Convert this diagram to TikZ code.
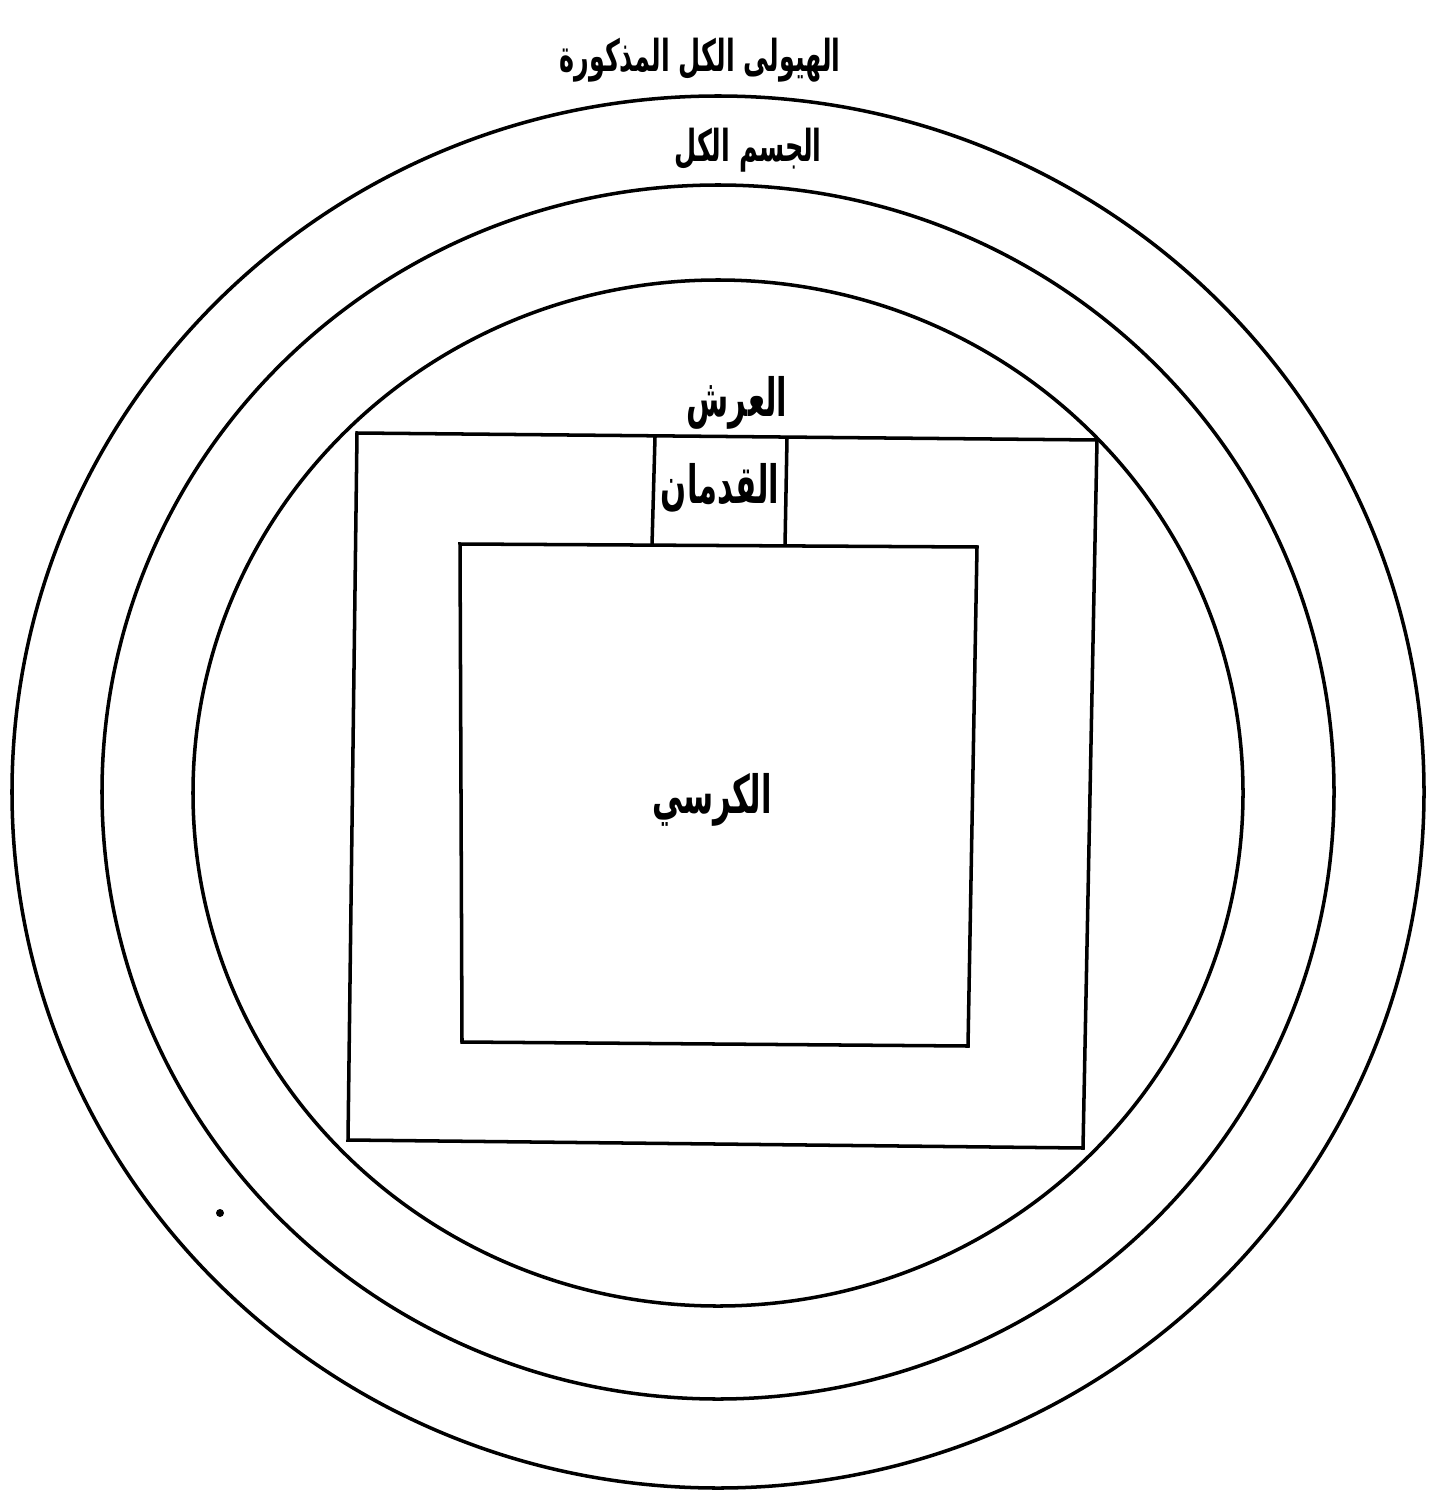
\documentclass[tikz,border=0pt]{standalone}
\usepackage{fontspec}
\newfontfamily\arabicfont[Script=Arabic,FakeStretch=0.58]{DejaVu Sans}
\TeXXeTstate=1
\usetikzlibrary{calc}

\begin{document}
\begin{tikzpicture}[x=0.01cm,y=-0.01cm,
  ring/.style={line width=1pt},
  boxline/.style={line width=1pt},
  arab/.style={font=\arabicfont\fontsize{15}{17}\selectfont\bfseries,inner sep=1pt},
  arabsmall/.style={arab,font=\arabicfont\fontsize{12.5}{15}\selectfont\bfseries}]
  \useasboundingbox (0,0) rectangle (1433,1494);
  % the three spheres
  \draw[ring] (718,792) ellipse [x radius=706, y radius=696];
  \draw[ring] (718,792) ellipse [x radius=616, y radius=607];
  \draw[ring] (718,793) ellipse [x radius=525, y radius=513];
  % outer square (the throne)
  \coordinate (arsh-nw) at (357,433);
  \coordinate (arsh-ne) at (1097,440);
  \coordinate (arsh-se) at (1083,1148);
  \coordinate (arsh-sw) at (348,1140);
  \draw[boxline] (arsh-nw) -- (arsh-ne) -- (arsh-se) -- (arsh-sw) -- cycle;
  % inner square (the footstool)
  \coordinate (kursi-nw) at (460,544);
  \coordinate (kursi-ne) at (977,547);
  \coordinate (kursi-se) at (968,1046);
  \coordinate (kursi-sw) at (462,1042);
  \draw[boxline] (kursi-nw) -- (kursi-ne) -- (kursi-se) -- (kursi-sw) -- cycle;
  % the two feet
  \coordinate (qad-nw) at (655,437);
  \coordinate (qad-ne) at (787,438);
  \coordinate (qad-sw) at (652,545);
  \coordinate (qad-se) at (785,546);
  \draw[boxline] (qad-nw) -- (qad-sw);
  \draw[boxline] (qad-ne) -- (qad-se);
  % names
  \node[arabsmall] (hayula) at (700,60) {\beginR الهيولى الكل المذكورة\endR};
  \node[arabsmall] (jism) at (748,150) {\beginR الجسم الكل\endR};
  \node[arab] (arsh) at (737,403) {\beginR العرش\endR};
  \node[arab] (qadaman) at (720,488) {\beginR القدمان\endR};
  \node[arab] (kursi) at (712,800) {\beginR الكرسي\endR};
  \fill (220,1213) circle [radius=4];
\end{tikzpicture}
\end{document}
